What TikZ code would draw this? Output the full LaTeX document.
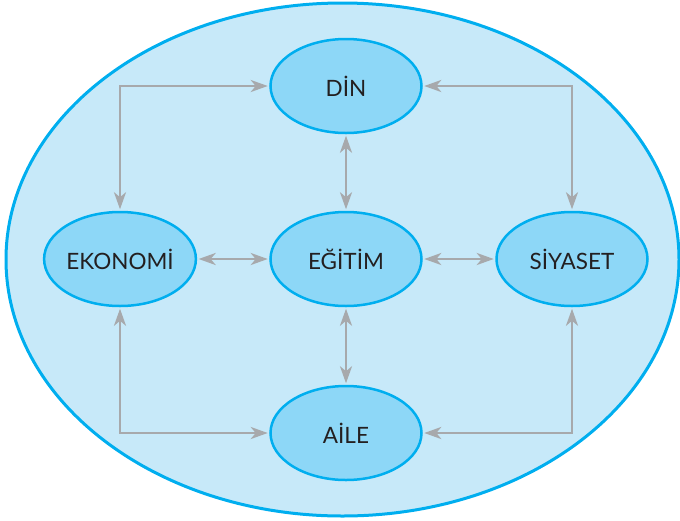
\documentclass[tikz,border=0pt]{standalone}
\usepackage{fontspec}
\setmainfont{Lato}
\usetikzlibrary{arrows.meta,shapes.geometric}
\definecolor{bgblue}{HTML}{C7E9F9}
\definecolor{nodeblue}{HTML}{8DD7F7}
\definecolor{strokeblue}{HTML}{00AEEF}
\definecolor{arrowgray}{HTML}{A7A9AC}
\definecolor{textdark}{HTML}{231F20}
\begin{document}
\begin{tikzpicture}[x=1pt,y=-1pt,
  topic/.style={ellipse, draw=strokeblue, fill=nodeblue, line width=2.5pt,
    minimum width=151pt, minimum height=94pt, inner sep=0pt,
    text=textdark, font=\fontsize{22.5}{24}\selectfont},
  conn/.style={draw=arrowgray, line width=2.7pt,
    {Stealth[length=17pt,width=12pt,inset=5pt]}-{Stealth[length=17pt,width=12pt,inset=5pt]},
    shorten <=1.5pt, shorten >=1.5pt}]
\useasboundingbox (0,0) rectangle (680,520);
\draw[fill=bgblue, draw=strokeblue, line width=3pt] (342.5,259.5) ellipse [x radius=336.5, y radius=256.5];
\node[topic] (din) at (346,86) {DİN};
\node[topic] (egt) at (346,259) {EĞİTİM};
\node[topic] (eko) at (120,259) {EKONOMİ};
\node[topic] (siy) at (572,259) {SİYASET};
\node[topic] (aile) at (346,433) {AİLE};
\draw[conn] (eko.north) |- (din.west);
\draw[conn] (siy.north) |- (din.east);
\draw[conn] (eko.south) |- (aile.west);
\draw[conn] (siy.south) |- (aile.east);
\draw[conn] (din.south) -- (egt.north);
\draw[conn] (egt.south) -- (aile.north);
\draw[conn] (eko.east) -- (egt.west);
\draw[conn] (egt.east) -- (siy.west);
\end{tikzpicture}
\end{document}
